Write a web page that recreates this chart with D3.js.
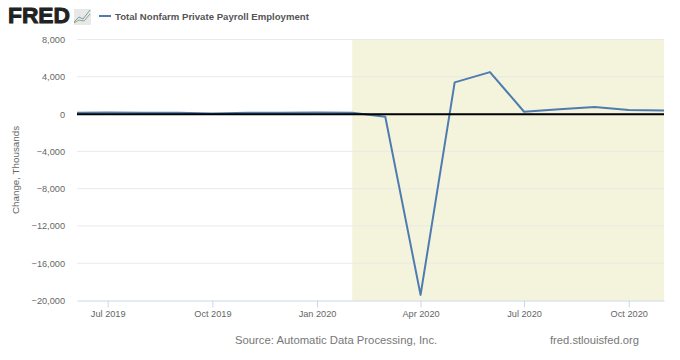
<!DOCTYPE html>
<html>
<head>
<meta charset="utf-8">
<script src="https://cdn.jsdelivr.net/npm/d3@7"></script>
<style>
    html, body { margin: 0; padding: 0; background: #fff; }
    svg { display: block; }
    text { font-family: "Liberation Sans", Arial, sans-serif; }
</style>
</head>
<body>
<svg id="chart"></svg>
<script>
const months = ["2019-06", "2019-07", "2019-08", "2019-09", "2019-10", "2019-11", "2019-12",
    "2020-01", "2020-02", "2020-03", "2020-04", "2020-05", "2020-06", "2020-07", "2020-08",
    "2020-09", "2020-10", "2020-11"];
const payrollChange = [150, 160, 155, 150, 70, 150, 150, 170, 140, -280, -19400, 3400, 4500, 250, 520, 770, 440, 370];
const yTicks = [8000, 4000, 0, -4000, -8000, -12000, -16000, -20000];
const xTickDates = ["2019-07", "2019-10", "2020-01", "2020-04", "2020-07", "2020-10"];
const recession = ["2020-02", "2020-11"];
const seriesName = "Total Nonfarm Private Payroll Employment";

const width = 680, height = 360;
const plotLeft = 77, plotRight = 664, plotTop = 39.5, plotBottom = 300.5;
const parseMonth = d3.utcParse("%Y-%m");

const svg = d3.select("#chart").attr("width", width).attr("height", height);

const x = d3.scaleUtc()
    .domain([new Date(Date.UTC(2019, 5, 4)), parseMonth("2020-11")])
    .range([plotLeft, plotRight]);
const y = d3.scaleLinear().domain([-20000, 8000]).range([plotBottom, plotTop]);

svg.append("defs").append("clipPath").attr("id", "plot")
    .append("rect")
    .attr("x", plotLeft).attr("y", plotTop)
    .attr("width", plotRight - plotLeft).attr("height", plotBottom - plotTop);

// recession band
svg.append("rect")
    .attr("x", x(parseMonth(recession[0])))
    .attr("y", plotTop)
    .attr("width", x(parseMonth(recession[1])) - x(parseMonth(recession[0])))
    .attr("height", plotBottom - plotTop)
    .attr("fill", "#f4f3db");

// gridlines
svg.selectAll("line.grid")
    .data(yTicks.filter(d => d !== -20000))
    .enter()
    .append("line")
    .attr("class", "grid")
    .attr("x1", plotLeft).attr("x2", plotRight)
    .attr("y1", d => y(d)).attr("y2", d => y(d))
    .attr("stroke", "#e9e9e9")
    .attr("stroke-width", 1);

// y axis labels
const yAxis = d3.axisLeft(y).tickValues(yTicks).tickFormat(d3.format(",")).tickSize(0).tickPadding(12);
const yG = svg.append("g").attr("transform", `translate(${plotLeft},0)`).call(yAxis);
yG.select(".domain").remove();
yG.selectAll("text").attr("fill", "#666").style("font-size", "9.2px").style("font-family", '"Liberation Sans", Arial, sans-serif');

// x axis
const xAxis = d3.axisBottom(x)
    .tickValues(xTickDates.map(parseMonth))
    .tickFormat(d3.utcFormat("%b %Y"))
    .tickSizeOuter(0).tickSizeInner(7).tickPadding(3);
const xG = svg.append("g").attr("transform", `translate(0,${plotBottom})`).call(xAxis);
xG.select(".domain").attr("stroke", "#ccd6eb");
xG.selectAll("line").attr("stroke", "#ccd6eb");
xG.selectAll("text").attr("fill", "#666").style("font-size", "9.2px").style("font-family", '"Liberation Sans", Arial, sans-serif');

// series
const line = d3.line()
    .x((d, i) => x(parseMonth(months[i])))
    .y(d => y(d));
svg.append("path")
    .datum(payrollChange)
    .attr("clip-path", "url(#plot)")
    .attr("d", line)
    .attr("fill", "none")
    .attr("stroke", "#4f7cb0")
    .attr("stroke-width", 2)
    .attr("stroke-linejoin", "round");

// zero line
svg.append("line")
    .attr("x1", plotLeft).attr("x2", plotRight)
    .attr("y1", y(0) + 0.3).attr("y2", y(0) + 0.3)
    .attr("stroke", "#000")
    .attr("stroke-width", 2);

// y axis title
svg.append("text")
    .attr("transform", "translate(19,170) rotate(-90)")
    .attr("text-anchor", "middle")
    .attr("fill", "#666")
    .style("font-size", "9.8px")
    .text("Change, Thousands");

// logo
svg.append("text")
    .attr("x", 8).attr("y", 23)
    .attr("fill", "#222")
    .attr("stroke", "#222")
    .attr("stroke-width", 0.9)
    .style("font-size", "22px")
    .style("font-weight", "bold")
    .attr("textLength", 62)
    .attr("lengthAdjust", "spacingAndGlyphs")
    .text("FRED");
svg.append("rect").attr("x", 74).attr("y", 9).attr("width", 17).attr("height", 16).attr("fill", "#e8e8e8");
svg.append("path").attr("d", "M74,22 L79,17 L83,19 L90,10").attr("fill", "none").attr("stroke", "#7a9bb8").attr("stroke-width", 1);
svg.append("path").attr("d", "M74,23 L79,20 L84,21 L90,14").attr("fill", "none").attr("stroke", "#8cab78").attr("stroke-width", 1);

// legend
svg.append("line")
    .attr("x1", 99).attr("x2", 111)
    .attr("y1", 16).attr("y2", 16)
    .attr("stroke", "#4f7cb0").attr("stroke-width", 2);
svg.append("text")
    .attr("x", 115).attr("y", 19.5)
    .attr("fill", "#555")
    .style("font-size", "9.6px")
    .style("font-weight", "bold")
    .text(seriesName);

// footer
svg.append("text")
    .attr("x", 235).attr("y", 344)
    .attr("fill", "#777")
    .style("font-size", "11.3px")
    .text("Source: Automatic Data Processing, Inc.");
svg.append("text")
    .attr("x", 550).attr("y", 344)
    .attr("fill", "#777")
    .style("font-size", "11.2px")
    .text("fred.stlouisfed.org");
</script>
</body>
</html>
